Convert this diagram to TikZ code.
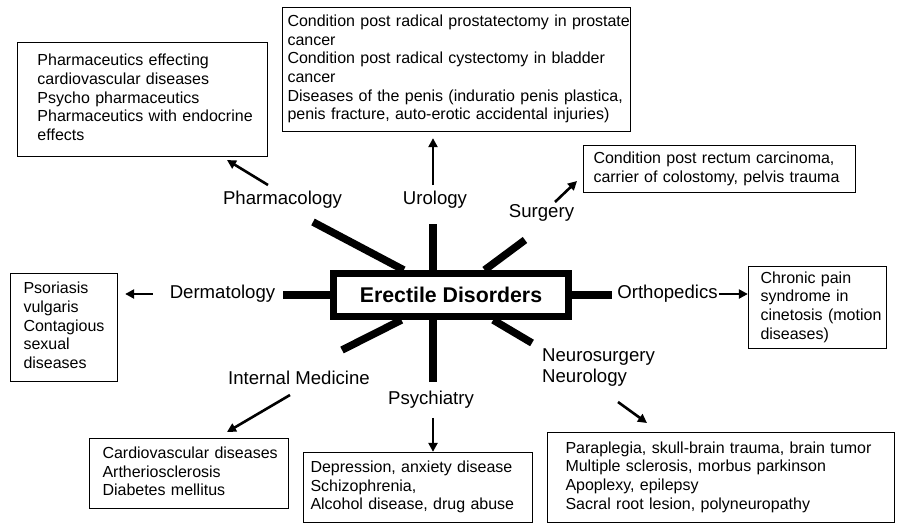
\documentclass[tikz,border=0pt]{standalone}
\usepackage{fontspec}
\setmainfont{Liberation Sans}
\usetikzlibrary{arrows.meta}
\newcommand{\blines}[1]{\begin{tabular}{@{}l@{}}#1\end{tabular}}
\tikzset{
  lbl/.style={inner sep=0pt, font=\fontsize{18.6}{21.7}\selectfont},
  box/.style={draw, line width=1.3pt, inner ysep=0pt, align=left,
              font=\fontsize{16}{18.7}\selectfont},
  mainbox/.style={draw, line width=7pt, minimum width=235pt, minimum height=43pt,
              inner sep=0pt, font=\fontsize{21.3}{25}\selectfont\bfseries},
  spoke/.style={line width=7.5pt, line cap=butt},
  arr/.style={line width=2.6pt, -{Triangle[length=9pt,width=9pt]}}
}
\begin{document}
\begin{tikzpicture}[x=1pt,y=-1pt]
\useasboundingbox (0,0) rectangle (898,525);

% central node
\node[mainbox] (main) at (451,295) {Erectile Disorders};

% labels
\node[lbl] (phL) at (282.5,200) {Pharmacology};
\node[lbl] (urL) at (435,200) {Urology};
\node[lbl] (suL) at (541.5,213) {Surgery};
\node[lbl] (deL) at (222.5,294) {Dermatology};
\node[lbl] (orL) at (667.5,294) {Orthopedics};
\node[lbl] (imL) at (299,378) {Internal Medicine};
\node[lbl] (psL) at (431,400) {Psychiatry};
\node[lbl, anchor=west, align=left] (neL) at (542,367.5) {Neurosurgery\\Neurology};

% boxes
\node[box, text width=210pt, inner xsep=20pt, minimum height=114pt] (phB) at (142.5,99.5)
  {\blines{Pharmaceutics effecting\\cardiovascular diseases\\Psycho pharmaceutics\\Pharmaceutics with endocrine\\effects}};
\node[box, text width=338pt, inner xsep=5pt, minimum height=124pt] (urB) at (456.5,69.5)
  {\blines{Condition post radical prostatectomy in prostate\\cancer\\Condition post radical cystectomy in bladder\\cancer\\Diseases of the penis (induratio penis plastica,\\penis fracture, auto-erotic accidental injuries)}};
\node[box, text width=252pt, inner xsep=10pt, minimum height=47pt] (suB) at (719.5,169)
  {\blines{Condition post rectum carcinoma,\\carrier of colostomy, pelvis trauma}};
\node[box, text width=81pt, inner xsep=13pt, minimum height=108pt] (deB) at (64,327.5)
  {\blines{Psoriasis\\vulgaris\\Contagious\\sexual\\diseases}};
\node[box, text width=114pt, inner xsep=12pt, minimum height=82pt] (orB) at (817.5,307.5)
  {\blines{Chronic pain\\syndrome in\\cinetosis (motion\\diseases)}};
\node[box, text width=173pt, inner xsep=13pt, minimum height=70pt] (imB) at (189,473.5)
  {\blines{Cardiovascular diseases\\Artheriosclerosis\\Diabetes mellitus}};
\node[box, text width=215pt, inner xsep=7pt, minimum height=70pt] (psB) at (418,487.5)
  {\blines{Depression, anxiety disease\\Schizophrenia,\\Alcohol disease, drug abuse}};
\node[box, text width=311pt, inner xsep=18pt, minimum height=90pt] (neB) at (721,477.5)
  {\blines{Paraplegia, skull-brain trauma, brain tumor\\Multiple sclerosis, morbus parkinson\\Apoplexy, epilepsy\\Sacral root lesion, polyneuropathy}};

% spoke ends
\coordinate (phS) at (313,222);
\coordinate (urS) at (433,224);
\coordinate (suS) at (525,240);
\coordinate (deS) at (283,295);
\coordinate (orS) at (612,295);
\coordinate (imS) at (342,350);
\coordinate (psS) at (433,382);
\coordinate (neS) at (532,343);

\draw[spoke] (main) -- (phS);
\draw[spoke] (urS) -- (urS |- main.north);
\draw[spoke] (main) -- (suS);
\draw[spoke] (main) -- (deS);
\draw[spoke] (main) -- (orS);
\draw[spoke] (main) -- (imS);
\draw[spoke] (psS) -- (psS |- main.south);
\draw[spoke] (main) -- (neS);

% arrow ends
\coordinate (phA) at (268,185); \coordinate (phT) at (227,160);
\coordinate (suA) at (555,202); \coordinate (suT) at (577,181);
\coordinate (imA) at (290,395); \coordinate (imT) at (227,432);
\coordinate (neA) at (618,402); \coordinate (neT) at (647,423);
\coordinate (vX) at (433,0);

\draw[arr] (phA) -- (phT);
\draw[arr, shorten <=6pt, shorten >=6pt] (urL.north -| vX) -- (urB.south -| vX);
\draw[arr] (suA) -- (suT);
\draw[arr, shorten <=17pt, shorten >=7pt] (deL.west) -- (deL.west -| deB.east);
\draw[arr, shorten <=1pt] (orL.east) -- (orL.east -| orB.west);
\draw[arr] (imA) -- (imT);
\draw[arr, shorten <=9pt] (psL.south -| vX) -- (psB.north -| vX);
\draw[arr] (neA) -- (neT);
\end{tikzpicture}
\end{document}
